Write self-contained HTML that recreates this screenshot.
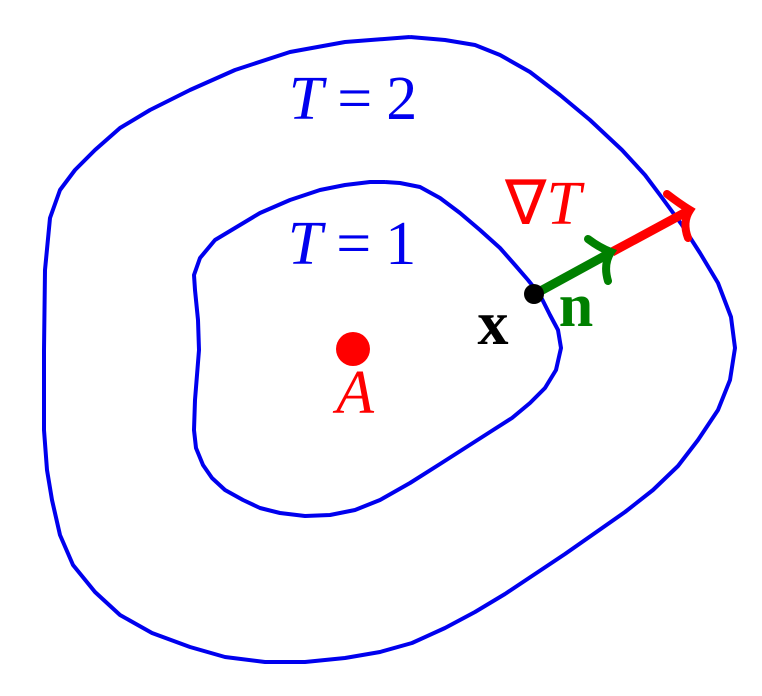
<!DOCTYPE html>
<html><head><style>html,body{margin:0;padding:0;background:#fff}svg{display:block}</style></head>
<body>
<svg width="762" height="696" viewBox="0 0 762 696" xmlns="http://www.w3.org/2000/svg">
<g fill="none" stroke="#0000ee" stroke-width="4" stroke-linejoin="round">
<polyline points="410,37 345,42 290,52 235,70 190,90 150,110 120,128 95,150 75,170 60,190 50,218 45,270 44,350 44,430 47,470 52,500 60,535 73,565 95,592 120,615 152,633 190,647 225,657 265,662 305,662 345,658 380,652 412,643 445,628 475,612 505,594 535,574 565,554 595,533 625,512 653,490 678,466 698,440 718,410 730,380 735,348 731,317 718,283 700,253 682,225 660,195 645,175 622,150 590,120 560,95 530,72 500,55 475,45 445,40 410,37"/>
<polyline points="385,182 400,183 420,187 440,198 460,213 480,230 500,248 515,265 528,280 540,295 550,315 558,330 561,348 556,370 545,388 530,403 512,418 490,432 465,448 440,464 410,483 380,500 355,510 330,515 305,516 280,513 260,508 243,500 225,490 212,478 203,465 196,448 194,430 195,400 197,375 199,350 198,320 195,290 194,275 200,258 215,240 235,228 260,213 290,200 320,190 345,185 370,182 385,182"/>
</g>
<line x1="612" y1="252" x2="688" y2="211" stroke="#ff0000" stroke-width="9"/>
<path d="M667,194 Q680,204 690,210 Q682,222 688,238" fill="none" stroke="#ff0000" stroke-width="8" stroke-linecap="round"/>
<line x1="535" y1="294" x2="610" y2="253" stroke="#008000" stroke-width="9"/>
<path d="M588,239 Q600,248 611,252 Q603,264 608,281" fill="none" stroke="#008000" stroke-width="8" stroke-linecap="round"/>
<circle cx="534" cy="294" r="10" fill="#000"/>
<circle cx="353" cy="349" r="17" fill="#ff0000"/>
<g font-family="Liberation Serif, serif" font-size="62">
<text x="353" y="119" text-anchor="middle" fill="#0000ee"><tspan font-style="italic">T</tspan><tspan dx="14">=</tspan><tspan dx="14">2</tspan></text>
<text x="352" y="264" text-anchor="middle" fill="#0000ee"><tspan font-style="italic">T</tspan><tspan dx="14">=</tspan><tspan dx="14">1</tspan></text>
<text x="543" y="224" text-anchor="middle" fill="#ff0000">∇<tspan font-style="italic">T</tspan></text>
<text x="355" y="413" text-anchor="middle" fill="#ff0000" font-style="italic">A</text>
<text x="493" y="344" text-anchor="middle" fill="#000" font-weight="bold">x</text>
<text x="576" y="326" text-anchor="middle" fill="#008000" font-weight="bold">n</text>
</g>
</svg>
</body></html>
